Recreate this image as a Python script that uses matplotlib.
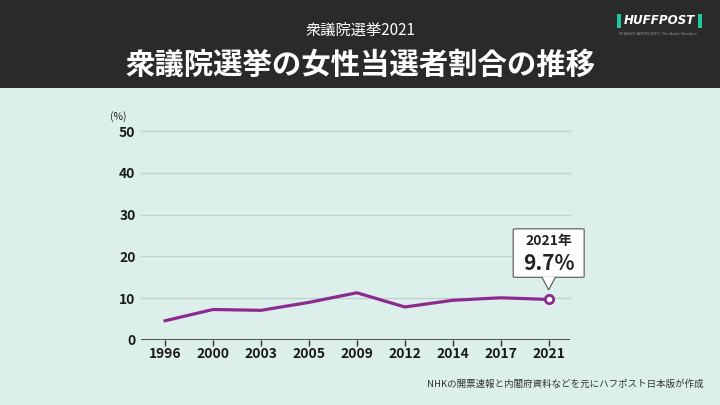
import matplotlib
matplotlib.use("Agg")
from matplotlib import pyplot as plt
from matplotlib.patches import Rectangle, FancyBboxPatch, Polygon

plt.rcParams['font.family'] = ['Noto Sans CJK JP', 'DejaVu Sans']

years = ['1996', '2000', '2003', '2005', '2009', '2012', '2014', '2017', '2021']
ratio = [4.6, 7.3, 7.1, 9.0, 11.3, 7.9, 9.5, 10.1, 9.7]
y_ticks = [0, 10, 20, 30, 40, 50]

subtitle = '衆議院選挙2021'
title = '衆議院選挙の女性当選者割合の推移'
source = 'NHKの開票速報と内閣府資料などを元にハフポスト日本版が作成'

bg = '#dcefea'
header = '#2a2a2a'
purple = '#8b2a8f'

fig = plt.figure(figsize=(7.2, 4.05), dpi=100)
fig.patch.set_facecolor(bg)

# header band
fig.patches.append(Rectangle((0, 0.783), 1, 0.217, transform=fig.transFigure,
                             facecolor=header, edgecolor='none', zorder=0))
fig.text(0.5, 0.925, subtitle, color='white', fontsize=11, ha='center', va='center')
fig.text(0.5, 0.84, title, color='white', fontsize=21.2, fontweight='bold',
         ha='center', va='center')

# logo
fig.patches.append(Rectangle((0.857, 0.932), 0.005, 0.034, transform=fig.transFigure,
                             facecolor='#1fc8a0', edgecolor='none'))
fig.patches.append(Rectangle((0.970, 0.932), 0.005, 0.034, transform=fig.transFigure,
                             facecolor='#1fc8a0', edgecolor='none'))
fig.text(0.916, 0.949, 'HUFFPOST', color='white', fontsize=8.6, fontweight='bold',
         fontstyle='italic', ha='center', va='center', family='DejaVu Sans')
fig.text(0.914, 0.916, 'IN ASSOCIATION WITH  The Asahi Shimbun', color='#999999',
         fontsize=2.6, ha='center', va='center', family='DejaVu Sans')

ax = fig.add_axes([0.196, 0.1605, 0.596, 0.516])
ax.set_facecolor(bg)
x = list(range(len(years)))

for t in y_ticks[1:]:
    ax.axhline(t, color='#bfd3ce', linewidth=1, zorder=1, clip_on=False)
ax.axhline(0, color='#333333', linewidth=1.2, zorder=2)

ax.plot(x, ratio, color=purple, linewidth=2.3, zorder=3, solid_joinstyle='miter')
ax.plot(x[-1], ratio[-1], marker='o', markersize=6, markerfacecolor='white',
        markeredgecolor=purple, markeredgewidth=2, zorder=4)

ax.set_xlim(-0.5, 8.45)
ax.set_ylim(0, 50)
ax.set_xticks(x)
ax.set_xticklabels(years, fontsize=10, fontweight='bold', color='#1a1a1a')
ax.set_yticks(y_ticks)
ax.set_yticklabels([str(v) for v in y_ticks], fontsize=10, fontweight='bold',
                   color='#1a1a1a')
ax.tick_params(axis='x', length=4, width=1, color='#333333', pad=1, direction='out')
ax.tick_params(axis='y', length=0, pad=4)
for s in ax.spines.values():
    s.set_visible(False)
fig.text(0.164, 0.711, '(%)', fontsize=7.5, ha='center', va='center', color='#222222')

# callout above the last point
cx = x[-1]
cy = ratio[-1]
box = FancyBboxPatch((cx - 0.74, cy + 5.3), 1.48, 11.6,
                     boxstyle='round,pad=0,rounding_size=0.12',
                     mutation_aspect=4.18 / 47.9 * 8,
                     facecolor='white', edgecolor='#555555', linewidth=0.8,
                     zorder=5, clip_on=False)
ax.add_patch(box)
tri = Polygon([(cx - 0.14, cy + 5.45), (cx + 0.14, cy + 5.45), (cx, cy + 2.3)],
              closed=True, facecolor='white', edgecolor='none', zorder=6, clip_on=False)
ax.add_patch(tri)
ax.plot([cx - 0.14, cx, cx + 0.14], [cy + 5.3, cy + 2.3, cy + 5.3], color='#555555',
        linewidth=0.8, zorder=7, clip_on=False)
ax.text(cx, cy + 14.0, '2021年', fontsize=10, fontweight='bold', ha='center',
        va='center', color='#222222', zorder=8)
ax.text(cx, cy + 8.6, '%.1f%%' % ratio[-1], fontsize=15, fontweight='bold',
        ha='center', va='center', color='#222222', zorder=8)

fig.text(0.977, 0.052, source, fontsize=6.8, ha='right', va='center', color='#333333')

fig.savefig('out.png', dpi=100, facecolor=fig.get_facecolor())
